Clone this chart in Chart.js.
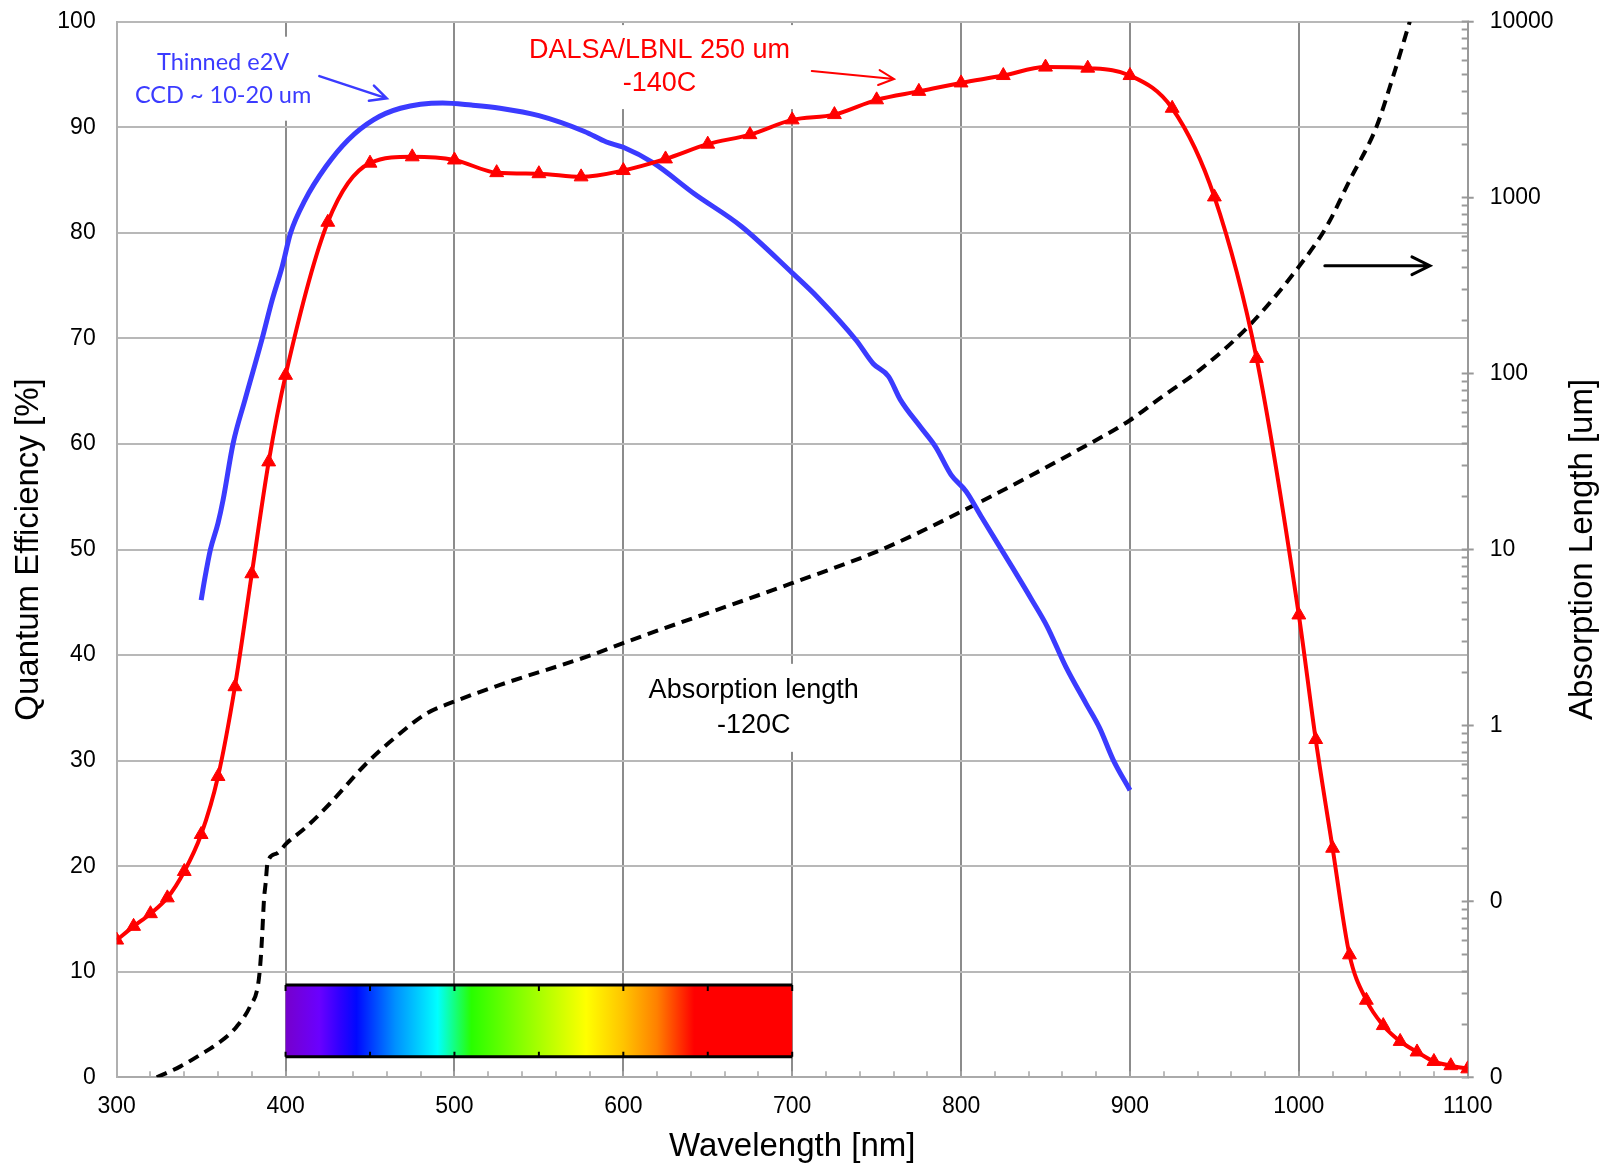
<!DOCTYPE html>
<html>
<head>
<meta charset="utf-8">
<title>Quantum efficiency vs wavelength</title>
<script src="https://cdn.jsdelivr.net/npm/chart.js@4"></script>
<style>
    html, body { margin: 0; padding: 0; background: #fff; }
    #wrap { width: 1607px; height: 1165px; }
</style>
</head>
<body>
<div id="wrap"><canvas id="qe-chart"></canvas></div>
<script>
/*jshint esversion: 9 */

// DALSA/LBNL 250 um at -140C (red, triangles)
const redWl = [300, 310, 320, 330, 340, 350, 360, 370, 380, 390, 400, 425, 450, 475, 500, 525, 550, 575, 600, 625,
    650, 675, 700, 725, 750, 775, 800, 825, 850, 875, 900, 925, 950, 975, 1000, 1010, 1020, 1030, 1040, 1050,
    1060, 1070, 1080, 1090, 1100];
const redQe = [13.0, 14.3, 15.5, 17.0, 19.5, 23.0, 28.5, 37.0, 47.7, 58.3, 66.5, 81.0, 86.6, 87.2, 86.9, 85.7, 85.6, 85.3, 85.9, 87.0,
    88.4, 89.3, 90.7, 91.2, 92.6, 93.4, 94.2, 94.9, 95.7, 95.6, 94.9, 91.8, 83.4, 68.1, 43.8, 32.0, 21.7, 11.6, 7.3, 4.9,
    3.4, 2.4, 1.5, 1.1, 0.8];

// thinned e2V CCD (blue)
const blueWl = [350, 352, 355.5, 360, 363, 369, 376, 386, 392, 398, 403, 411.5, 424, 437, 452, 468, 493, 510, 527, 550,
    577, 590, 600, 618, 642, 670, 700, 715, 738, 748, 757, 764, 776, 785, 794, 803, 812, 830, 842, 851,
    862, 874, 882, 890, 900];
const blueQe = [45.2, 47.1, 50.0, 52.5, 54.7, 60.1, 64.2, 69.9, 73.6, 76.8, 80.0, 83.1, 86.3, 88.8, 90.7, 91.8, 92.3, 92.1, 91.8, 91.1,
    89.6, 88.6, 88.1, 86.6, 83.7, 80.6, 76.2, 73.9, 69.8, 67.6, 66.4, 64.2, 61.6, 59.7, 57.1, 55.5, 53.1, 48.4, 45.2, 42.7,
    38.9, 35.4, 33.1, 30.1, 27.2];

// absorption length at -120C, um (black dashed, right log axis)
const absWl = [323.7, 337.5, 349.3, 361.2, 371, 378.9, 383.8, 385.2, 386.2, 387.2, 388.2, 389.4, 394.7, 400.6, 412.5, 426.3,
    448, 467.7, 483.5, 499.3, 527, 581, 599.5, 699.8, 753, 800, 876, 900, 917.7, 941.4, 971, 1000, 1016.4, 1030.2,
    1046, 1055.8, 1065.7];
const absLen = [0.010, 0.0115, 0.0134, 0.0159, 0.0194, 0.0252, 0.034, 0.046, 0.066, 0.102, 0.127, 0.168, 0.187, 0.214, 0.266, 0.36,
    0.61, 0.90, 1.17, 1.36, 1.70, 2.51, 2.93, 6.43, 10.0, 16.4, 39.9, 54.3, 72.3, 105, 189, 405, 684, 1259,
    2529, 4875, 10000];

const xTickLabels = ['300', '400', '500', '600', '700', '800', '900', '1000', '1100'];
const qeTickLabels = ['0', '10', '20', '30', '40', '50', '60', '70', '80', '90', '100'];
const absTickLabels = ['0', '0', '1', '10', '100', '1000', '10000'];   // decades 0.01 .. 10000
const absDecades = [-2, -1, 0, 1, 2, 3, 4];

// visible spectrum strip
const spectrumRange = [400, 700];
const spectrumQe = [1.95, 8.74];
const spectrumWl = [400, 420, 432, 442, 465, 490, 510, 540, 578, 600, 620, 642, 700];
const spectrumColor = ['#7600cc', '#6a00ff', '#3000ff', '#0008ff', '#0090ff', '#00ffff', '#28ff00', '#88ff00',
    '#ffff00', '#ffc400', '#ff8000', '#ff0000', '#ff0000'];
const spectrumTicks = [400, 450, 500, 550, 600, 650, 700];

const ARIAL = '"Liberation Sans", Arial, sans-serif';

const notes = [
    {lines: ['Thinned e2V', 'CCD ~ 10-20 um'], wl: 363, qe: 94.6, gap: 33, color: '#3b3bff', font: '23.5px Lato, sans-serif'},
    {lines: ['DALSA/LBNL 250 um', '-140C'], wl: 621.4, qe: 95.7, gap: 33, color: '#ff0000', font: '27px ' + ARIAL},
    {lines: ['Absorption length', '-120C'], wl: 677.2, qe: 35.0, gap: 35, color: '#000000', font: '27px ' + ARIAL},
];

const arrows = [
    {from: [420.0, 94.85], to: [459.9, 92.74], color: '#3b3bff', width: 2.5, head: 18},
    {from: [711.6, 95.33], to: [760.3, 94.57], color: '#ff0000', width: 2, head: 17},
    {from: [1015.4, 76.88], to: [1077.6, 76.88], color: '#000000', width: 3, head: 20},
];


const points = (xs, ys) => xs.map((x, i) => ({x: x, y: ys[i]}));

const isDecade = v => Math.abs(Math.log10(v) - Math.round(Math.log10(v))) < 1e-6;

// keep the plot frame where it is: no extra room for half tick labels
const noLabelPadding = scale => {
    scale.paddingTop = 0;
    scale.paddingBottom = 0;
    scale.paddingLeft = 0;
    scale.paddingRight = 0;
};

const drawArrow = (ctx, a, b, color, width, head) => {
    const ang = Math.atan2(b[1] - a[1], b[0] - a[0]);
    ctx.save();
    ctx.strokeStyle = color;
    ctx.lineWidth = width;
    ctx.lineCap = 'round';
    ctx.beginPath();
    ctx.moveTo(a[0], a[1]);
    ctx.lineTo(b[0], b[1]);
    ctx.moveTo(b[0] - head * Math.cos(ang - 0.46), b[1] - head * Math.sin(ang - 0.46));
    ctx.lineTo(b[0], b[1]);
    ctx.lineTo(b[0] - head * Math.cos(ang + 0.46), b[1] - head * Math.sin(ang + 0.46));
    ctx.stroke();
    ctx.restore();
};

const decorations = {
    id: 'decorations',

    beforeDatasetsDraw: chart => {
        const ctx = chart.ctx;
        const x = chart.scales.x;
        const y = chart.scales.y;

        // spectrum strip
        const x0 = x.getPixelForValue(spectrumRange[0]);
        const x1 = x.getPixelForValue(spectrumRange[1]);
        const yTop = y.getPixelForValue(spectrumQe[1]);
        const yBot = y.getPixelForValue(spectrumQe[0]);
        const grad = ctx.createLinearGradient(x0, 0, x1, 0);
        spectrumWl.forEach((wl, i) => {
            grad.addColorStop((wl - spectrumRange[0]) / (spectrumRange[1] - spectrumRange[0]), spectrumColor[i]);
        });
        ctx.save();
        ctx.fillStyle = grad;
        ctx.fillRect(x0, yTop, x1 - x0, yBot - yTop);
        ctx.strokeStyle = '#000';
        ctx.lineWidth = 3;
        ctx.beginPath();
        ctx.moveTo(x0, yTop);
        ctx.lineTo(x1, yTop);
        ctx.moveTo(x0, yBot);
        ctx.lineTo(x1, yBot);
        ctx.stroke();
        ctx.lineWidth = 2;
        ctx.beginPath();
        for (let i = 0, max = spectrumTicks.length; i < max; i++) {
            const px = x.getPixelForValue(spectrumTicks[i]);
            ctx.moveTo(px, yTop);
            ctx.lineTo(px, yTop + 6);
            ctx.moveTo(px, yBot);
            ctx.lineTo(px, yBot - 5);
        }
        ctx.stroke();
        ctx.restore();

        // text notes on white boxes
        notes.forEach(note => {
            const cx = x.getPixelForValue(note.wl);
            const cy = y.getPixelForValue(note.qe);
            ctx.save();
            ctx.font = note.font;
            const w = Math.max(...note.lines.map(t => ctx.measureText(t).width)) + 16;
            const h = note.lines.length * note.gap + 18;
            ctx.fillStyle = '#fff';
            ctx.fillRect(cx - w / 2, cy - h / 2, w, h);
            ctx.fillStyle = note.color;
            ctx.textAlign = 'center';
            ctx.textBaseline = 'middle';
            note.lines.forEach((t, i) => {
                ctx.fillText(t, cx, cy + (i - (note.lines.length - 1) / 2) * note.gap);
            });
            ctx.restore();
        });
    },

    afterDatasetsDraw: chart => {
        const x = chart.scales.x;
        const y = chart.scales.y;
        arrows.forEach(a => {
            drawArrow(chart.ctx,
                [x.getPixelForValue(a.from[0]), y.getPixelForValue(a.from[1])],
                [x.getPixelForValue(a.to[0]), y.getPixelForValue(a.to[1])],
                a.color, a.width, a.head);
        });
    },

    afterDraw: chart => {
        const ctx = chart.ctx;
        const area = chart.chartArea;
        const y2 = chart.scales.y2;

        // decade ticks also stick out of the right axis
        ctx.save();
        ctx.strokeStyle = '#999';
        ctx.lineWidth = 2;
        ctx.beginPath();
        absDecades.forEach(d => {
            const py = y2.getPixelForValue(Math.pow(10, d));
            ctx.moveTo(area.right, py);
            ctx.lineTo(area.right + 6, py);
        });
        ctx.stroke();

        // right axis title, reading bottom to top like the left one
        ctx.translate(y2.right - 24, (area.top + area.bottom) / 2);
        ctx.rotate(-Math.PI / 2);
        ctx.font = '33px ' + ARIAL;
        ctx.fillStyle = '#000';
        ctx.textAlign = 'center';
        ctx.textBaseline = 'middle';
        ctx.fillText('Absorption Length [um]', 0, 0);
        ctx.restore();
    },
};

const tickFont = {family: ARIAL, size: 23};

const config = {
    type: 'line',
    data: {
        datasets: [
            {
                label: 'DALSA/LBNL 250 um -140C',
                data: points(redWl, redQe),
                yAxisID: 'y',
                borderColor: '#ff0000',
                borderWidth: 4,
                backgroundColor: '#ff0000',
                pointStyle: 'triangle',
                pointRadius: 8,
                pointBorderWidth: 1,
                pointBackgroundColor: '#ff0000',
                pointBorderColor: '#ff0000',
                cubicInterpolationMode: 'monotone',
            },
            {
                label: 'Thinned e2V CCD ~ 10-20 um',
                data: points(blueWl, blueQe),
                yAxisID: 'y',
                borderColor: '#3b3bff',
                borderWidth: 5,
                pointRadius: 0,
                cubicInterpolationMode: 'monotone',
            },
            {
                label: 'Absorption length -120C',
                data: points(absWl, absLen),
                yAxisID: 'y2',
                borderColor: '#000000',
                borderWidth: 4,
                borderDash: [11, 7],
                pointRadius: 0,
                cubicInterpolationMode: 'monotone',
            },
        ],
    },
    options: {
        responsive: true,
        maintainAspectRatio: false,
        animation: false,
        layout: {padding: {top: 21.7, left: 0, right: 0, bottom: 0}},
        plugins: {
            legend: {display: false},
            tooltip: {enabled: false},
        },
        scales: {
            x: {
                type: 'linear',
                position: 'bottom',
                min: 300,
                max: 1100,
                afterFit: scale => {
                    scale.height = 87.7;
                    noLabelPadding(scale);
                },
                ticks: {
                    stepSize: 20,
                    autoSkip: false,
                    maxRotation: 0,
                    padding: 22,
                    color: '#000',
                    font: tickFont,
                    callback: value => (value % 100 === 0 ? xTickLabels[(value - 300) / 100] : ''),
                },
                grid: {
                    color: c => (c.tick && c.tick.value % 100 === 0 && c.tick.value > 300 && c.tick.value < 1100
                        ? '#8c8c8c' : 'rgba(0,0,0,0)'),
                    lineWidth: 2,
                    tickColor: '#a6a6a6',
                    tickWidth: 1.5,
                    tickLength: -6,
                },
                border: {display: true, color: '#aaaaaa', width: 2},
                title: {
                    display: true,
                    text: 'Wavelength [nm]',
                    color: '#000',
                    font: {family: ARIAL, size: 33, lineHeight: 1},
                    padding: {top: 0, bottom: 2},
                },
            },
            y: {
                type: 'linear',
                position: 'left',
                min: 0,
                max: 100,
                afterFit: scale => {
                    scale.width = 116.7;
                    noLabelPadding(scale);
                },
                ticks: {
                    stepSize: 10,
                    padding: 21,
                    color: '#000',
                    font: tickFont,
                    callback: value => qeTickLabels[Math.round(value / 10)],
                },
                grid: {color: '#b8b8b8', lineWidth: 2, drawTicks: false},
                border: {display: true, color: '#b0b0b0', width: 2},
                title: {
                    display: true,
                    text: 'Quantum Efficiency [%]',
                    color: '#000',
                    font: {family: ARIAL, size: 33, lineHeight: 1},
                    padding: {top: 12.5, bottom: 0},
                },
            },
            y2: {
                type: 'logarithmic',
                position: 'right',
                min: 0.01,
                max: 10000,
                afterFit: scale => {
                    scale.width = 139.3;
                    noLabelPadding(scale);
                },
                afterBuildTicks: scale => {
                    const ticks = [];
                    for (let d = -2; d < 4; d++) {
                        for (let k = 1; k < 10; k++) {
                            ticks.push({value: Number((k * Math.pow(10, d)).toPrecision(6))});
                        }
                    }
                    ticks.push({value: 10000});
                    scale.ticks = ticks;
                },
                ticks: {
                    autoSkip: false,
                    padding: 28,
                    color: '#000',
                    font: tickFont,
                    callback: value => (isDecade(value) ? absTickLabels[Math.round(Math.log10(value)) + 2] : ''),
                },
                grid: {
                    drawOnChartArea: false,
                    tickLength: -6,
                    tickColor: '#999',
                    tickWidth: 2,
                },
                border: {display: true, color: '#999', width: 2},
            },
        },
    },
    plugins: [decorations],
};

new Chart(document.getElementById('qe-chart'), config);
</script>
</body>
</html>
